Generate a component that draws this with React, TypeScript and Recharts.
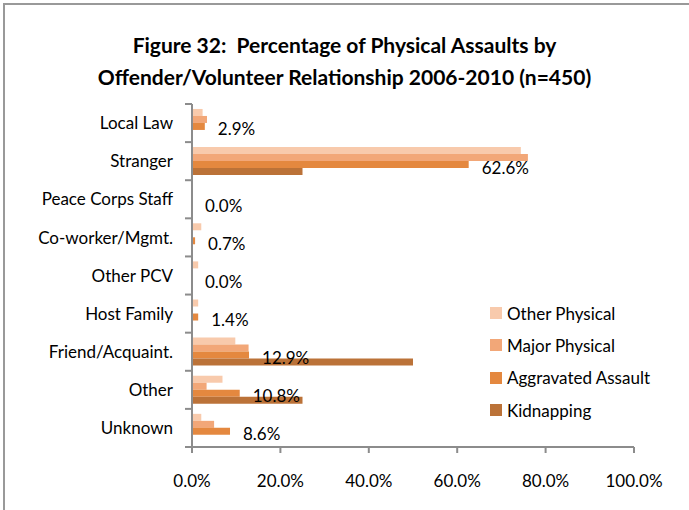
import React from 'react';
import { BarChart, Bar, XAxis, YAxis, LabelList } from 'recharts';

const categories = [
  'Local Law',
  'Stranger',
  'Peace Corps Staff',
  'Co-worker/Mgmt.',
  'Other PCV',
  'Host Family',
  'Friend/Acquaint.',
  'Other',
  'Unknown',
];
const otherPhysical = [2.4, 74.4, 0, 2.1, 1.4, 1.4, 9.8, 6.9, 2.1];
const majorPhysical = [3.4, 76.0, 0, 0, 0, 0, 12.8, 3.3, 5.0];
const aggravatedAssault = [2.9, 62.6, 0, 0.7, 0, 1.4, 12.9, 10.8, 8.6];
const kidnapping = [0, 25.0, 0, 0, 0, 0, 50.0, 25.0, 0];
const xTicks = [0, 20, 40, 60, 80, 100];

const series = [
  { key: 'otherPhysical', name: 'Other Physical', color: '#F8CAAC' },
  { key: 'majorPhysical', name: 'Major Physical', color: '#F2A778' },
  { key: 'aggravatedAssault', name: 'Aggravated Assault', color: '#E4883F' },
  { key: 'kidnapping', name: 'Kidnapping', color: '#BB7238' },
];

const data = categories.map((name, i) => ({
  name,
  otherPhysical: otherPhysical[i],
  majorPhysical: majorPhysical[i],
  aggravatedAssault: aggravatedAssault[i],
  kidnapping: kidnapping[i],
}));

const FONT = 'Lato, "Open Sans", sans-serif';
const AXIS_GRAY = '#8c8c8c';
const TICK_SIZE = 7;
const TICK_MARGIN = 12;

const pct = (v: number) => `${Number(v).toFixed(1)}%`;

// category tick: label centred on the band, tick marks on band boundaries (Excel style)
function CategoryTick(props: any) {
  const { x, y, payload, index } = props;
  const half = payload.offset ?? 19;
  const lx1 = x + TICK_MARGIN;
  const lx2 = x + TICK_MARGIN + TICK_SIZE;
  return (
    <g>
      <line x1={lx1} x2={lx2} y1={y - half} y2={y - half} stroke={AXIS_GRAY} strokeWidth={2} />
      {index === categories.length - 1 && (
        <line x1={lx1} x2={lx2} y1={y + half} y2={y + half} stroke={AXIS_GRAY} strokeWidth={2} />
      )}
      <text x={x} y={y} dy="0.36em" textAnchor="end" fill="#000" fontSize={17} fontFamily={FONT}>
        {payload.value}
      </text>
    </g>
  );
}

function LegendList() {
  return (
    <div
      style={{
        position: 'absolute',
        left: 490,
        top: 297,
        fontFamily: FONT,
        fontSize: 17,
        color: '#000',
      }}
    >
      {series.map((s) => (
        <div key={s.key} style={{ display: 'flex', alignItems: 'center', height: 32.3 }}>
          <span style={{ width: 12, height: 12, background: s.color, marginRight: 5, display: 'inline-block' }} />
          <span>{s.name}</span>
        </div>
      ))}
    </div>
  );
}

export default function App() {
  return (
    <div
      style={{
        position: 'absolute',
        left: 0,
        top: 0,
        width: 689,
        height: 510,
        overflow: 'hidden',
        background: '#fff',
      }}
    >
      <div
        style={{
          position: 'absolute',
          left: 3,
          top: 3,
          width: 720,
          height: 540,
          borderLeft: '2px solid #999',
          borderTop: '2px solid #999',
        }}
      />
      <div
        style={{
          position: 'absolute',
          left: 0,
          top: 29,
          width: 689,
          textAlign: 'center',
          fontFamily: FONT,
          fontWeight: 700,
          fontSize: 21,
          lineHeight: '32px',
          color: '#000',
        }}
      >
        Figure 32:&nbsp; Percentage of Physical Assaults by
        <br />
        Offender/Volunteer Relationship 2006-2010 (n=450)
      </div>
      <BarChart
        width={689}
        height={510}
        data={data}
        layout="vertical"
        margin={{ top: 104, right: 55, bottom: 23, left: 12 }}
        barCategoryGap="13%"
        barGap={0}
        style={{ position: 'absolute', left: 0, top: 0 }}
      >
        <XAxis
          type="number"
          domain={[0, 100]}
          ticks={xTicks}
          tickFormatter={pct}
          height={40}
          stroke={AXIS_GRAY}
          strokeWidth={2}
          tickSize={6}
          tickMargin={22}
          tick={{ fill: '#000', fontSize: 17, fontFamily: FONT }}
        />
        <YAxis
          type="category"
          dataKey="name"
          width={180}
          stroke={AXIS_GRAY}
          strokeWidth={2}
          tickLine={false}
          tickSize={TICK_SIZE}
          tickMargin={TICK_MARGIN}
          interval={0}
          tick={<CategoryTick />}
        />
        {series.map((s) => (
          <Bar
            key={s.key}
            dataKey={s.key}
            name={s.name}
            fill={s.color}
            minPointSize={s.key === 'aggravatedAssault' ? 0.01 : 0}
            isAnimationActive={false}
          >
            {s.key === 'aggravatedAssault' && (
              <LabelList
                dataKey="aggravatedAssault"
                position="right"
                offset={13}
                dy={3}
                formatter={pct}
                fill="#000"
                fontSize={17}
                fontFamily={FONT}
              />
            )}
          </Bar>
        ))}
      </BarChart>
      <LegendList />
    </div>
  );
}
